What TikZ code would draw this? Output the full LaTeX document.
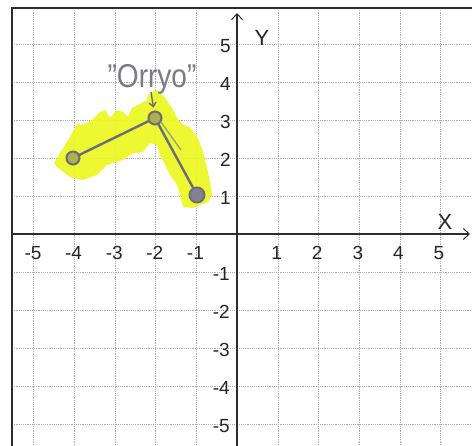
\documentclass[tikz,border=0pt]{standalone}
\usepackage{fontspec}
\setmainfont{Liberation Sans}
\usetikzlibrary{arrows.meta}
\definecolor{gridc}{RGB}{175,175,175}
\definecolor{hl}{RGB}{236,247,28}
\definecolor{pen}{RGB}{108,108,122}
\definecolor{pentwo}{RGB}{150,165,120}
\definecolor{framec}{RGB}{45,45,45}
\begin{document}
\begin{tikzpicture}[x=1pt,y=-1pt,
  gridline/.style={draw=gridc,line width=0.8pt,dash pattern=on 1.2pt off 1pt},
  framel/.style={draw=framec,line width=2pt},
  axisl/.style={draw=framec,line width=1.6pt,-{Straight Barb[length=6pt,width=11pt,line width=1pt]}},
  lab/.style={inner sep=0pt,text=black!85,font=\fontsize{19}{19}\selectfont},
  axlab/.style={inner sep=0pt,text=black!85,font=\fontsize{22}{22}\selectfont},
  hand/.style={inner sep=0pt,text=pen!90!white,xscale=0.85,font=\fontsize{33}{33}\selectfont},
  ptc/.style={circle,draw=pen,line width=2pt,minimum size=13pt,inner sep=0pt,fill=pen!50!hl},
  penline/.style={draw=pen,line width=2.4pt,line cap=round}
]
\useasboundingbox (0,0) rectangle (472,446);
\fill[white] (0,0) rectangle (472,446);
% grid
\foreach \gx in {33.5,74,115,155.6,196,278,318,359,400,440.5}
  \draw[gridline] (\gx,8) -- (\gx,446);
\foreach \gy in {44,82,120,158,196,272,310,348,386,424}
  \draw[gridline] (12,\gy) -- (472,\gy);
% highlight
\fill[hl,fill opacity=0.9] (54,163) -- (62,150) -- (70,137) -- (77,124) -- (83,125) -- (92,120)
  -- (100,112) -- (105,110) -- (110,118) -- (117,110) -- (123,112) -- (128,117) -- (132,108)
  -- (138,105) -- (147,100) -- (148,96) -- (152,92) -- (157,90) -- (165,98) -- (172,108)
  -- (177,118) -- (183,125) -- (190,127) -- (198,138) -- (203,152) -- (207,168) -- (210,182)
  -- (212,195) -- (208,202) -- (193,208) -- (183,207) -- (180,195) -- (177,185) -- (170,175)
  -- (165,165) -- (160,155) -- (157,145) -- (150,143) -- (143,152) -- (133,153) -- (123,160)
  -- (107,165) -- (97,175) -- (83,180) -- (70,177) -- (57,167) -- cycle;
% frame and axes
\draw[framel] (12,446) -- (12,8) -- (472,8);
\coordinate (ybot) at (237,446);
\coordinate (ytop) at (237,13);
\coordinate (xleft) at (12,234);
\coordinate (xright) at (470,234);
\draw[axisl] (ybot) -- (ytop);
\draw[axisl] (xleft) -- (xright);
% tick labels
\foreach \k in {1,...,5} {
  \pgfmathsetmacro{\yy}{234-38*\k+2}
  \node[lab,anchor=east] (yp\k) at (231,\yy) {\k};
  \pgfmathsetmacro{\yn}{234+38*\k+2}
  \node[lab,anchor=east] (yn\k) at (230,\yn) {-\k};
  \pgfmathsetmacro{\xp}{237+40.6*\k-1}
  \node[lab] (xp\k) at (\xp,253) {\k};
  \pgfmathsetmacro{\xn}{237-40.6*\k-1}
  \node[lab] (xn\k) at (\xn,253) {-\k};
}
\node[axlab] (ylab) at (262,38) {Y};
\node[axlab] (xlab) at (445,222) {X};
% handwritten annotation
\node[hand,anchor=base] (word) at (152,88) {"Orryo"};
% path and points
\node[ptc] (A) at (73,158) {};
\node[ptc] (B) at (155,118) {};
\node[ptc,minimum size=15pt,fill=pen!85!white] (C) at (197,195) {};
\draw[penline] (A) -- (B);
\draw[penline] (B) -- (C);
\coordinate (B2) at (161,122);
\coordinate (C2) at (181,150);
\draw[draw=pentwo,line width=1.3pt] (B2) -- (C2);
\coordinate (arrs) at (151,92);
\draw[draw=pen,line width=1.4pt,-{Straight Barb[length=4pt,width=7pt]},shorten >=3pt] (arrs) -- (B);
\end{tikzpicture}
\end{document}
